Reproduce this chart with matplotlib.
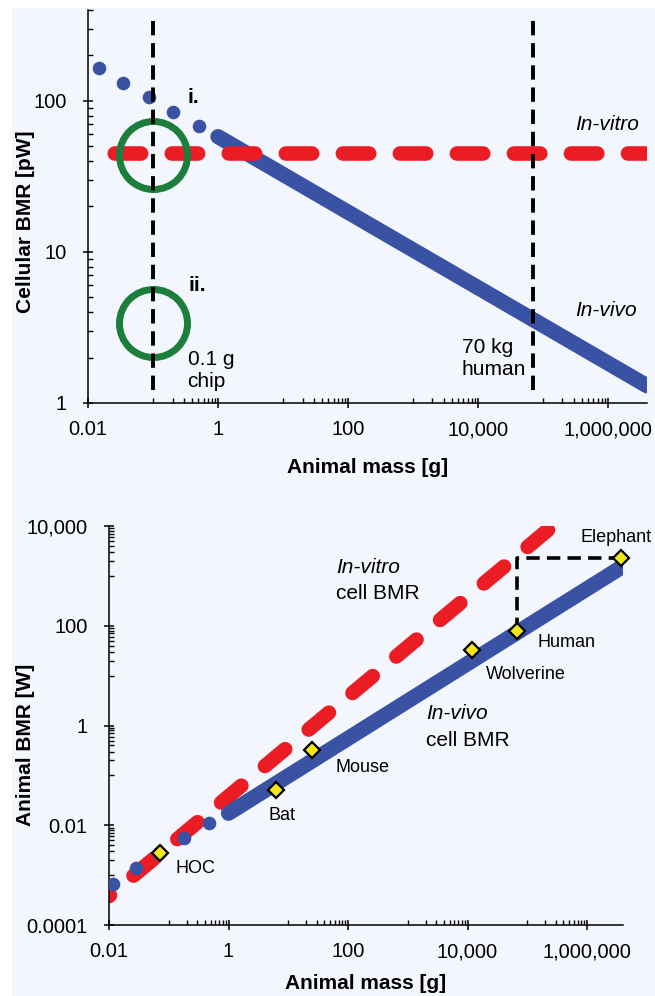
import matplotlib

matplotlib.use("Agg")
import matplotlib.pyplot as plt  # noqa: E402
from matplotlib.patches import Rectangle  # noqa: E402
from matplotlib.ticker import LogLocator, NullFormatter  # noqa: E402

plt.rcParams["font.family"] = ["Liberation Sans", "DejaVu Sans"]

BLUE = "#3a52a3"
RED = "#ec1c24"
GREEN = "#1b7f3b"
YELLOW = "#f4e719"
PANEL_BG = "#f3f6fc"

# cellular BMR [pW] against animal mass [g]
CELL_DOT_MASS = [0.015, 0.035, 0.087, 0.2, 0.51]
CELL_DOT_BMR = [166, 131, 106, 85, 68]
CELL_VIVO_MASS = [1, 4e6]
CELL_VIVO_BMR = [58, 1.3]
CELL_VITRO_MASS = [0.01, 4e6]
CELL_VITRO_BMR = [45, 45]
CHIP_MASS = 0.1
HUMAN_MASS = 7e4
CHIP_CIRCLE_BMR = [44, 3.4]

MASS_TICKS = [0.01, 1, 100, 1e4, 1e6]
MASS_TICK_LABELS = ["0.01", "1", "100", "10,000", "1,000,000"]
CELL_TICKS = [1, 10, 100]
CELL_TICK_LABELS = ["1", "10", "100"]

# whole-animal BMR [W] against animal mass [g]
ANIMAL_DOT_MASS = [0.0117, 0.028, 0.07, 0.18, 0.47]
ANIMAL_DOT_BMR = [6.6e-4, 1.38e-3, 2.75e-3, 5.5e-3, 0.011]
ANIMAL_VIVO_MASS = [1, 4e6]
ANIMAL_VIVO_BMR = [0.0174, 1560]
ANIMAL_VITRO_MASS = [0.01, 4e5]
ANIMAL_VITRO_BMR = [3.8e-4, 1.5e4]
SPECIES = ["HOC", "Bat", "Mouse", "Wolverine", "Human", "Elephant"]
SPECIES_MASS = [0.071, 6.2, 25, 1.2e4, 6.7e4, 3.7e6]
SPECIES_BMR = [2.75e-3, 0.05, 0.33, 32, 79, 2290]
ANIMAL_TICKS = [1e-4, 1e-2, 1, 100, 1e4]
ANIMAL_TICK_LABELS = ["0.0001", "0.01", "1", "100", "10,000"]

# where each species name sits relative to its marker (points)
SPECIES_OFFSETS = {
    "HOC": (11.5, -10.8),
    "Bat": (-5, -18),
    "Mouse": (16.6, -13),
    "Wolverine": (10, -17.3),
    "Human": (15, -8.6),
    "Elephant": (-29, 15),
}

# ticks every odd decade, the way a base-100 log axis draws them
MASS_MINOR = [j * 10.0 ** e for e in (-1, 1, 3, 5) for j in range(1, 10)]
ANIMAL_MINOR = [j * 10.0 ** e for e in (-3, -1, 1, 3) for j in range(1, 10)]


def style_axes(ax):
    ax.set_facecolor("none")
    for side in ("top", "right"):
        ax.spines[side].set_visible(False)
    for side in ("left", "bottom"):
        ax.spines[side].set_linewidth(1.1)
    ax.tick_params(which="major", direction="inout", length=7, width=1.1,
                   labelsize=14.5)
    ax.tick_params(which="minor", direction="in", length=3.3, width=1.0)
    ax.tick_params(axis="x", which="major", pad=9)
    ax.tick_params(axis="y", which="major", pad=12)
    ax.xaxis.set_minor_formatter(NullFormatter())
    ax.yaxis.set_minor_formatter(NullFormatter())


fig = plt.figure(figsize=(6.55, 9.96), dpi=100, facecolor="white")
fig.patches.append(Rectangle((12 / 655, 0), 1, 988 / 996, transform=fig.transFigure,
                             facecolor=PANEL_BG, edgecolor="none", zorder=-10))

# ---------- top: cellular BMR ----------
ax1 = fig.add_axes([88 / 655, 1 - 403 / 996, 559 / 655, 393 / 996])
ax1.set_xscale("log")
ax1.set_yscale("log")
style_axes(ax1)
ax1.set_xticks(MASS_TICKS, labels=MASS_TICK_LABELS)
ax1.set_xticks(MASS_MINOR, minor=True)
ax1.set_yticks(CELL_TICKS, labels=CELL_TICK_LABELS)
ax1.yaxis.set_minor_locator(LogLocator(base=10, subs=range(2, 10)))
ax1.set_xlim(0.01, 4e6)
ax1.set_ylim(1, 400)

ax1.plot(CELL_VIVO_MASS, CELL_VIVO_BMR, color=BLUE, lw=11,
         solid_capstyle="round", zorder=2)
ax1.plot(CELL_DOT_MASS, CELL_DOT_BMR, "o", color=BLUE, ms=9.8, mew=0, zorder=2)
ax1.plot(CELL_VITRO_MASS, CELL_VITRO_BMR, color=RED, lw=10.5,
         linestyle=(2.11, (1.81, 2.10)), dash_capstyle="round", zorder=3)
ax1.plot([CHIP_MASS] * 2, CHIP_CIRCLE_BMR, "o", ms=49, mfc="none",
         mec=GREEN, mew=5, zorder=4)
for m in (CHIP_MASS, HUMAN_MASS):
    ax1.axvline(m, ymin=0.033, ymax=0.987, color="black", lw=2.8,
                linestyle=(0, (3.7, 2.0)), zorder=5)

ax1.text(0.34, 106, "i.", fontsize=15, fontweight="bold", va="center")
ax1.text(0.35, 6.0, "ii.", fontsize=15, fontweight="bold", va="center")
ax1.text(0.34, 1.64, "0.1 g\nchip", fontsize=15, va="center")
ax1.text(5600, 1.97, "70 kg\nhuman", fontsize=15, va="center")
ax1.text(3.1e5, 70, "In-vitro", fontsize=15, style="italic", va="center")
ax1.text(3.1e5, 4.1, "In-vivo", fontsize=15, style="italic", va="center")

ax1.set_xlabel("Animal mass [g]", fontsize=15, fontweight="bold")
ax1.xaxis.set_label_coords(0.5, -0.14)
ax1.set_ylabel("Cellular BMR [pW]", fontsize=15, fontweight="bold")
ax1.yaxis.set_label_coords(-0.095, 0.46)

# ---------- bottom: animal BMR ----------
ax2 = fig.add_axes([109 / 655, 1 - 925 / 996, 514 / 655, 399 / 996])
ax2.set_xscale("log")
ax2.set_yscale("log")
style_axes(ax2)
ax2.set_xticks(MASS_TICKS, labels=MASS_TICK_LABELS)
ax2.set_xticks(MASS_MINOR, minor=True)
ax2.set_yticks(ANIMAL_TICKS, labels=ANIMAL_TICK_LABELS)
ax2.set_yticks(ANIMAL_MINOR, minor=True)
ax2.set_xlim(0.01, 4e6)
ax2.set_ylim(1e-4, 1e4)

ax2.plot(ANIMAL_VITRO_MASS, ANIMAL_VITRO_BMR, color=RED, lw=10.5,
         linestyle=(1.72, (1.81, 2.10)), dash_capstyle="round", zorder=2)
ax2.plot(ANIMAL_VIVO_MASS, ANIMAL_VIVO_BMR, color=BLUE, lw=11,
         solid_capstyle="round", zorder=3)
ax2.plot(ANIMAL_DOT_MASS, ANIMAL_DOT_BMR, "o", color=BLUE, ms=9.8, mew=0, zorder=3)
ax2.plot([SPECIES_MASS[4], SPECIES_MASS[4], SPECIES_MASS[5]],
         [SPECIES_BMR[4], SPECIES_BMR[5], SPECIES_BMR[5]],
         color="black", lw=2.6, linestyle=(0, (3.7, 2.0)), zorder=4)
ax2.plot(SPECIES_MASS, SPECIES_BMR, "D", ms=8.5, mfc=YELLOW, mec="black",
         mew=1.6, zorder=6, clip_on=False)
for name, m, b in zip(SPECIES, SPECIES_MASS, SPECIES_BMR):
    ax2.annotate(name, (m, b), xytext=SPECIES_OFFSETS[name],
                 textcoords="offset points", fontsize=13, va="center")

ax2.text(63, 1445, "In-vitro", fontsize=15, style="italic", va="center")
ax2.text(63, 437, "cell BMR", fontsize=15, va="center")
ax2.text(2050, 1.74, "In-vivo", fontsize=15, style="italic", va="center")
ax2.text(2050, 0.5, "cell BMR", fontsize=15, va="center")

ax2.set_xlabel("Animal mass [g]", fontsize=15, fontweight="bold")
ax2.xaxis.set_label_coords(0.5, -0.122)
ax2.set_ylabel("Animal BMR [W]", fontsize=15, fontweight="bold")
ax2.yaxis.set_label_coords(-0.144, 0.451)

fig.savefig("out.png", dpi=100)
